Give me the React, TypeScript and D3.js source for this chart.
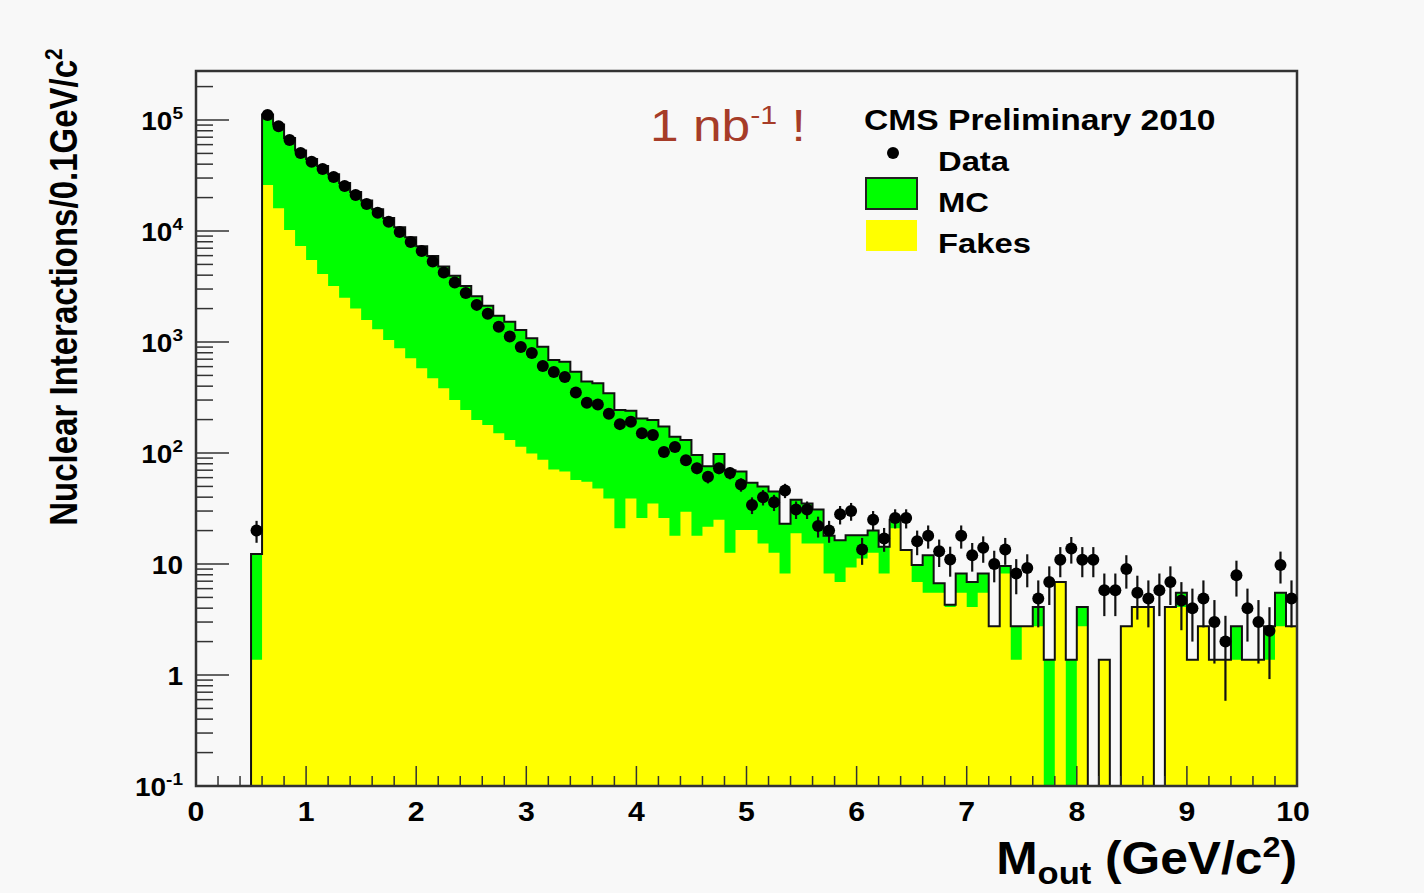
import React from 'react';
import * as d3 from 'd3';

// ---- data (bins of 0.1 GeV/c^2 starting at 0.5) ----
const binStart = 0.5;
const binWidth = 0.1;

const dataCounts = [
  20, 111000, 88000, 66000, 50500, 42000, 36200, 30600, 25400, 21100,
  17500, 14600, 12100, 9800, 7960, 6610, 5300, 4220, 3430, 2760,
  2160, 1800, 1370, 1120, 900, 796, 608, 537, 484, 351,
  284, 273, 226, 182, 191, 151, 145, 102, 113, 86,
  73, 61, 73, 66, 52, 34, 40, 36, 46, 31,
  31, 22, 20, 28, 30, 13.5, 25, 17, 26, 26,
  16, 18, 13, 11, 18, 12, 14, 10, 13.5, 8.2,
  9.2, 4.9, 6.9, 10.9, 13.8, 10.9, 10.9, 5.8, 5.8, 9,
  5.5, 4.9, 5.8, 6.9, 4.7, 4, 4.9, 3, 2, 7.9,
  4, 3, 2.5, 9.8, 4.9,
];

const mcTotal = [
  12.3, 112000, 91000, 69000, 53000, 44500, 38500, 32500, 27000, 22500,
  18800, 15700, 13100, 10800, 8800, 7300, 5950, 4800, 3950, 3200,
  2580, 2120, 1720, 1520, 1280, 1080, 908, 690, 665, 540,
  440, 425, 345, 244, 240, 205, 198, 173, 140, 131,
  96, 76, 98, 70, 68, 54, 50, 45, 23, 38,
  35, 31, 18, 16.4, 18.2, 18.2, 20, 14.3, 25, 13.4,
  9.8, 12, 6.7, 4.3, 8.2, 6.9, 8.2, 2.75, 9.6, 2.75,
  2.75, 4.1, 1.37, 6.9, 1.37, 4.1, 0, 1.37, 0, 2.75,
  4.1, 4.1, 0, 4.1, 5.5, 1.37, 2.75, 1.37, 1.37, 2.75,
  1.37, 1.37, 2.75, 5.5, 2.75,
];

const fakes = [
  1.37, 25900, 16000, 10200, 7330, 5480, 4100, 3200, 2510, 2000,
  1580, 1300, 1040, 877, 713, 580, 471, 383, 300, 244,
  198, 179, 151, 131, 114, 99, 87, 71, 68, 57,
  55, 48, 39, 21, 39, 26, 35, 26, 18, 29.5,
  18, 21.7, 25, 12.6, 20.2, 20.2, 15.3, 12.6, 8.2, 18.9,
  15.3, 15.3, 8.2, 6.9, 9.3, 11.2, 12.6, 8.2, 21, 13.4,
  6.9, 5.5, 5.5, 4.1, 5.5, 4.1, 5.5, 2.75, 8.2, 1.37,
  2.75, 2.75, 0, 6.9, 0, 2.75, 0, 1.37, 0, 2.75,
  4.1, 4.1, 0, 4.1, 4.1, 1.37, 2.75, 1.37, 1.37, 1.37,
  1.37, 1.37, 1.37, 2.75, 2.75,
];

const xTickLabels = ['0', '1', '2', '3', '4', '5', '6', '7', '8', '9', '10'];
const yMajorValues = [0.1, 1, 10, 100, 1000, 10000, 100000];
const yTickBase = ['10', '1', '10', '10', '10', '10', '10'];
const yTickExp = ['-1', '', '', '2', '3', '4', '5'];

const W = 1424;
const H = 893;
const L = 196, R = 1297, T = 71, B = 786;
const FONT = '"Liberation Sans", Arial, Helvetica, sans-serif';

function Txt(props: any) {
  const { x, y, size, sx = 1, anchor = 'start', weight = 'bold', fill = '#000', children } = props;
  return (
    <text
      transform={`translate(${x},${y}) scale(${sx},1)`}
      fontFamily={FONT}
      fontSize={size}
      fontWeight={weight}
      textAnchor={anchor}
      fill={fill}
    >
      {children}
    </text>
  );
}

export default function App() {
  const x = d3.scaleLinear().domain([0, 10]).range([L, R]);
  const yMax = Math.pow(10, (B - T) / 111 - 1);
  const y = d3.scaleLog().domain([0.1, yMax]).range([B, T]);
  const yv = (v: number) => (v > 0.1 ? y(v) : B);

  const lows = dataCounts.map((_, i) => binStart + i * binWidth);

  const stepPts = (vals: number[]) => {
    const pts = vals.map((v, i) => ({ x: lows[i], v }));
    pts.push({ x: 10, v: vals[vals.length - 1] });
    return pts;
  };

  const area = d3
    .area<{ x: number; v: number }>()
    .x((d) => x(d.x))
    .y0(B)
    .y1((d) => yv(d.v))
    .curve(d3.curveStepAfter);

  const outlinePts = [{ x: 0, v: 0 }, ...stepPts(mcTotal)];
  const line = d3
    .line<{ x: number; v: number }>()
    .x((d) => x(d.x))
    .y((d) => yv(d.v))
    .curve(d3.curveStepAfter);
  const outlinePath = (line(outlinePts) || '') + `L${x(10)},${B}`;

  const yMinor: number[] = [];
  yMajorValues.forEach((d) => {
    for (let k = 2; k <= 9; k++) {
      const v = d * k;
      if (v < yMax) yMinor.push(v);
    }
  });
  const xMinor = d3.range(0, 10.001, 0.2).filter((v) => Math.abs(v - Math.round(v)) > 1e-6);

  return (
    <svg
      width={W}
      height={H}
      style={{ position: 'absolute', left: 0, top: 0, background: '#f8f8f8' }}
    >
      <rect x={0} y={0} width={W} height={H} fill="#f8f8f8" />

      {/* histograms */}
      <path d={area(stepPts(mcTotal)) || ''} fill="#00ff00" />
      <path d={area(stepPts(fakes)) || ''} fill="#ffff00" />
      <path d={outlinePath} fill="none" stroke="#111" strokeWidth={2} />

      {/* ticks */}
      {yMajorValues.map((v, i) => (
        <line key={'ym' + i} x1={L} x2={L + 33} y1={y(v)} y2={y(v)} stroke="#333" strokeWidth={1.5} />
      ))}
      {yMinor.map((v, i) => (
        <line key={'yn' + i} x1={L} x2={L + 17} y1={y(v)} y2={y(v)} stroke="#333" strokeWidth={1.5} />
      ))}
      {xTickLabels.map((t, i) => (
        <line key={'xm' + i} x1={x(i)} x2={x(i)} y1={B} y2={B - 20} stroke="#333" strokeWidth={1.5} />
      ))}
      {xMinor.map((v, i) => (
        <line key={'xn' + i} x1={x(v)} x2={x(v)} y1={B} y2={B - 10} stroke="#333" strokeWidth={1.5} />
      ))}

      {/* frame */}
      <rect x={L} y={T} width={R - L} height={B - T} fill="none" stroke="#333" strokeWidth={2.5} />

      {/* data error bars and markers */}
      {dataCounts.map((v, i) => {
        const cx = x(lows[i] + binWidth / 2);
        const e = Math.sqrt(v);
        const lo = v - e > 0.1 ? y(v - e) : B;
        return <line key={'e' + i} x1={cx} x2={cx} y1={y(v + e)} y2={lo} stroke="#111" strokeWidth={2.2} />;
      })}
      {dataCounts.map((v, i) => (
        <circle key={'p' + i} cx={x(lows[i] + binWidth / 2)} cy={y(v)} r={6} fill="#000" />
      ))}

      {/* y tick labels */}
      {yMajorValues.map((v, i) => (
        <text
          key={'yl' + i}
          transform={`translate(183,${y(v) + 10}) scale(1.12,1)`}
          fontFamily={FONT}
          fontWeight="bold"
          fontSize={25}
          textAnchor="end"
        >
          {yTickBase[i]}
          {yTickExp[i] && (
            <tspan fontSize={17} dy={-11}>
              {yTickExp[i]}
            </tspan>
          )}
        </text>
      ))}

      {/* x tick labels */}
      {xTickLabels.map((t, i) => (
        <Txt key={'xl' + i} x={i === 10 ? x(i) - 4 : x(i)} y={821} size={27} sx={1.12} anchor="middle">
          {t}
        </Txt>
      ))}

      {/* axis titles */}
      <text
        transform={`translate(77,287) scale(1.17,1) rotate(-90)`}
        fontFamily={FONT}
        fontWeight="bold"
        fontSize={33}
        textAnchor="middle"
      >
        Nuclear Interactions/0.1GeV/c
        <tspan fontSize={21} dy={-13}>2</tspan>
      </text>

      <text
        transform={`translate(1297,874) scale(1.08,1)`}
        fontFamily={FONT}
        fontWeight="bold"
        fontSize={46}
        textAnchor="end"
      >
        M
        <tspan fontSize={32} dy={10}>out</tspan>
        <tspan dy={-10}> (GeV/c</tspan>
        <tspan fontSize={30} dy={-17}>2</tspan>
        <tspan dy={17}>)</tspan>
      </text>

      {/* annotation */}
      <text
        transform={`translate(650,141) scale(1.17,1)`}
        fontFamily={FONT}
        fontSize={44}
        fill="#a63c28"
      >
        1 nb
        <tspan fontSize={26} dy={-17}>-1</tspan>
        <tspan dy={17}> !</tspan>
      </text>

      {/* legend */}
      <Txt x={864} y={130} size={29} sx={1.16}>CMS Preliminary 2010</Txt>
      <circle cx={893} cy={153} r={6} fill="#000" />
      <Txt x={938} y={171} size={28} sx={1.17}>Data</Txt>
      <rect x={866} y={178} width={51} height={31} fill="#00ff00" stroke="#222" strokeWidth={2} />
      <Txt x={938} y={212} size={28} sx={1.17}>MC</Txt>
      <rect x={866} y={220} width={51} height={31} fill="#ffff00" />
      <Txt x={938} y={253} size={28} sx={1.17}>Fakes</Txt>
    </svg>
  );
}
